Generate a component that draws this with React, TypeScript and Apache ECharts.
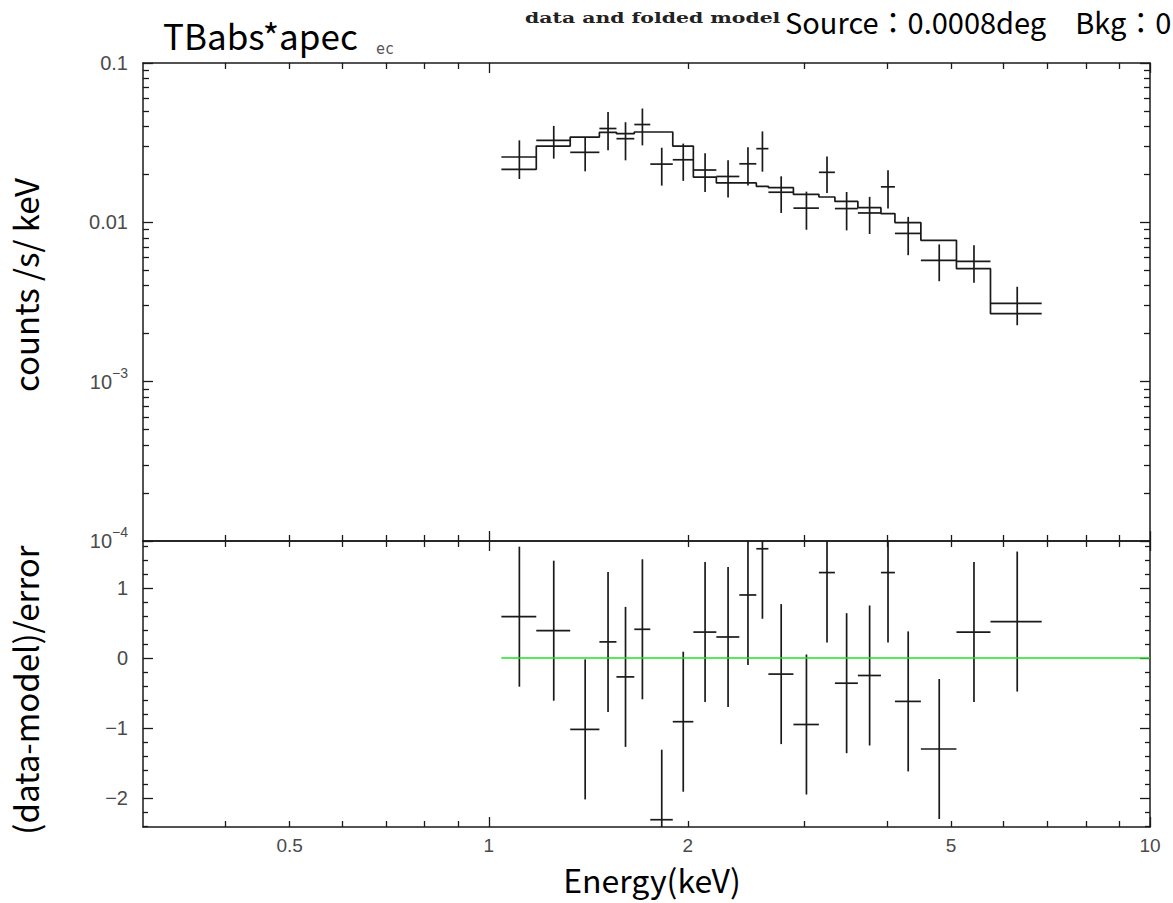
import React, { useEffect, useRef } from 'react';
import * as echarts from 'echarts';

// ---- data ----
const binEdges = [1.045, 1.18, 1.328, 1.47, 1.56, 1.66, 1.755, 1.898, 2.039, 2.209, 2.393, 2.539, 2.648, 2.889, 3.157, 3.338, 3.616, 3.918, 4.114, 4.503, 5.097, 5.738, 6.858];
const dataRate = [0.0257, 0.0327, 0.0275, 0.0388, 0.0335, 0.0411, 0.0232, 0.0247, 0.0213, 0.0194, 0.0233, 0.029, 0.01545, 0.01228, 0.0206, 0.0122, 0.01145, 0.0167, 0.00852, 0.00577, 0.00568, 0.0031];
const dataErr = [0.007, 0.0076, 0.0066, 0.0105, 0.009, 0.0107, 0.0062, 0.0065, 0.0058, 0.0051, 0.0063, 0.0082, 0.004, 0.0033, 0.0053, 0.0033, 0.003, 0.0045, 0.0023, 0.0015, 0.0015, 0.00084];
const modelRate = [0.0215, 0.0301, 0.0343, 0.0367, 0.036, 0.0369, 0.0369, 0.0301, 0.01924, 0.01767, 0.01767, 0.01683, 0.01651, 0.015, 0.01442, 0.01353, 0.01236, 0.01135, 0.00996, 0.00771, 0.00512, 0.00267];
const residual = [0.59, 0.39, -1.02, 0.23, -0.27, 0.41, -2.31, -0.91, 0.37, 0.3, 0.9, 1.56, -0.23, -0.95, 1.22, -0.36, -0.25, 1.22, -0.62, -1.3, 0.37, 0.52];
const residualErr = [1, 1, 1, 1, 1, 1, 1, 1, 1, 1, 1, 1, 1, 1, 1, 1, 1, 1, 1, 1, 1, 1];

const xMin = 0.3;
const xMax = 10;
const xLabelValues = [0.5, 1, 2, 5, 10];
const xMajorTicks = [1, 10];
const xMinorTicks = [0.4, 0.5, 0.6, 0.7, 0.8, 0.9, 2, 3, 4, 5, 6, 7, 8, 9];
const yTopMin = 0.0001;
const yTopMax = 0.1;
const yTopMajor = [0.0001, 0.001, 0.01, 0.1];
const yTopMinor = [0.0002, 0.0003, 0.0004, 0.0005, 0.0006, 0.0007, 0.0008, 0.0009, 0.002, 0.003, 0.004, 0.005, 0.006, 0.007, 0.008, 0.009, 0.02, 0.03, 0.04, 0.05, 0.06, 0.07, 0.08, 0.09];
const yBotMin = -2.414;
const yBotMax = 1.671;
const yBotMajor = [-2, -1, 0, 1];
const yBotMinor = [-2.4, -2.2, -1.8, -1.6, -1.4, -1.2, -0.8, -0.6, -0.4, -0.2, 0.2, 0.4, 0.6, 0.8, 1.2, 1.4, 1.6];

const titleText = 'TBabs*apec';
const subTitle = 'ec';
const plotTypeText = 'data and folded model';
const infoText = 'Source：0.0008deg　Bkg：0';
const yTopTitle = 'counts /s/ keV';
const yBotTitle = '(data-model)/error';
const xTitle = 'Energy(keV)';

const INK = '#1a1a1a';
const LABEL = '#4a4a4a';
const BIG_FONT = '"Noto Sans CJK JP", "Noto Sans", sans-serif';
const TICK_FONT = '"Liberation Sans", Arial, sans-serif';
const TICK_SIZE = 20;

const GRID_LEFT = 143;
const GRID_W = 1007;
const TOP_Y = 63;
const MID_Y = 541;
const BOT_Y = 827;

function xAxisDef(gridIndex: number, position: string, ticks: number[], len: number, showLine: boolean, labels: boolean) {
  return {
    type: 'log',
    logBase: 10,
    gridIndex,
    position,
    min: xMin,
    max: xMax,
    axisLine: { show: showLine, onZero: false, lineStyle: { color: INK, width: 1.5 } },
    axisTick: { show: true, inside: true, length: len, customValues: ticks, lineStyle: { color: INK, width: 1.3 } },
    axisLabel: labels
      ? {
          show: true,
          customValues: xLabelValues,
          margin: 9,
          color: LABEL,
          fontFamily: TICK_FONT,
          fontSize: 19,
          formatter: (v: number) => String(v),
        }
      : { show: false },
    splitLine: { show: false },
    minorTick: { show: false },
  };
}

function yTopDef(position: string, ticks: number[], len: number, showLine: boolean, labels: boolean) {
  return {
    type: 'log',
    logBase: 10,
    gridIndex: 0,
    position,
    min: yTopMin,
    max: yTopMax,
    axisLine: { show: showLine, lineStyle: { color: INK, width: 1.5 } },
    axisTick: { show: true, inside: true, length: len, customValues: ticks, lineStyle: { color: INK, width: 1.3 } },
    axisLabel: labels
      ? {
          show: true,
          customValues: yTopMajor,
          margin: 15,
          color: LABEL,
          fontFamily: TICK_FONT,
          fontSize: TICK_SIZE,
          formatter: (v: number) => {
            if (v >= 0.01) return String(v);
            const e = Math.round(Math.log10(v));
            return '{base|10}{sup|−' + String(-e) + '}';
          },
          rich: {
            base: { fontSize: TICK_SIZE, lineHeight: 32, color: LABEL, fontFamily: TICK_FONT },
            sup: { fontSize: 14, lineHeight: 14, verticalAlign: 'top', color: LABEL, fontFamily: TICK_FONT },
          },
        }
      : { show: false },
    splitLine: { show: false },
    minorTick: { show: false },
  };
}

function yBotDef(position: string, ticks: number[], len: number, showLine: boolean, labels: boolean) {
  return {
    type: 'value',
    gridIndex: 1,
    position,
    min: yBotMin,
    max: yBotMax,
    axisLine: { show: showLine, onZero: false, lineStyle: { color: INK, width: 1.5 } },
    axisTick: { show: true, inside: true, length: len, customValues: ticks, lineStyle: { color: INK, width: 1.3 } },
    axisLabel: labels
      ? {
          show: true,
          customValues: yBotMajor,
          margin: 15,
          color: LABEL,
          fontFamily: TICK_FONT,
          fontSize: TICK_SIZE,
          formatter: (v: number) => (v < 0 ? '−' + String(Math.abs(v)) : String(v)),
        }
      : { show: false },
    splitLine: { show: false },
    minorTick: { show: false },
  };
}

function errorBarRenderer(params: any, api: any) {
  const lo = api.value(0);
  const hi = api.value(1);
  const v = api.value(2);
  const e = api.value(3);
  const mid = (lo + hi) / 2;
  const cs = params.coordSys;
  const clampY = (y: number) => Math.max(cs.y, Math.min(cs.y + cs.height, y));
  const pL = api.coord([lo, v]);
  const pR = api.coord([hi, v]);
  const pT = api.coord([mid, v + e]);
  const pB = api.coord([mid, v - e]);
  const style = { stroke: INK, lineWidth: 1.7 };
  const children: any[] = [];
  if (pL[1] >= cs.y && pL[1] <= cs.y + cs.height) {
    children.push({ type: 'line', shape: { x1: pL[0], y1: pL[1], x2: pR[0], y2: pR[1] }, style });
  }
  children.push({ type: 'line', shape: { x1: pT[0], y1: clampY(pT[1]), x2: pB[0], y2: clampY(pB[1]) }, style });
  return { type: 'group', children };
}

export default function App() {
  const ref = useRef<HTMLDivElement>(null);

  useEffect(() => {
    if (!ref.current) return;
    const chart = echarts.init(ref.current, null, { renderer: 'svg' });

    const spectrumData = dataRate.map((v, i) => [binEdges[i], binEdges[i + 1], v, dataErr[i]]);
    const residualData = residual.map((r, i) => [binEdges[i], binEdges[i + 1], r, residualErr[i]]);
    const modelSteps = modelRate.map((m, i) => [binEdges[i], m]);
    modelSteps.push([binEdges[binEdges.length - 1], modelRate[modelRate.length - 1]]);

    const option: any = {
      animation: false,
      backgroundColor: '#ffffff',
      grid: [
        { left: GRID_LEFT, top: TOP_Y, width: GRID_W, height: MID_Y - TOP_Y, containLabel: false },
        { left: GRID_LEFT, top: MID_Y, width: GRID_W, height: BOT_Y - MID_Y, containLabel: false },
      ],
      xAxis: [
        xAxisDef(0, 'bottom', xMajorTicks, 10, true, false),
        xAxisDef(0, 'bottom', xMinorTicks, 6, false, false),
        xAxisDef(0, 'top', xMajorTicks, 10, true, false),
        xAxisDef(0, 'top', xMinorTicks, 6, false, false),
        xAxisDef(1, 'bottom', xMajorTicks, 10, true, true),
        xAxisDef(1, 'bottom', xMinorTicks, 6, false, false),
        xAxisDef(1, 'top', xMajorTicks, 10, true, false),
        xAxisDef(1, 'top', xMinorTicks, 6, false, false),
      ],
      yAxis: [
        yTopDef('left', yTopMajor, 10, true, true),
        yTopDef('left', yTopMinor, 6, false, false),
        yTopDef('right', yTopMajor, 10, true, false),
        yTopDef('right', yTopMinor, 6, false, false),
        yBotDef('left', yBotMajor, 10, true, true),
        yBotDef('left', yBotMinor, 5, false, false),
        yBotDef('right', yBotMajor, 10, true, false),
        yBotDef('right', yBotMinor, 5, false, false),
      ],
      series: [
        {
          type: 'line',
          name: 'model',
          xAxisIndex: 0,
          yAxisIndex: 0,
          data: modelSteps,
          step: 'end',
          showSymbol: false,
          symbol: 'none',
          lineStyle: { color: INK, width: 1.7 },
          z: 3,
        },
        {
          type: 'custom',
          name: 'data',
          xAxisIndex: 0,
          yAxisIndex: 0,
          data: spectrumData,
          encode: { x: [0, 1], y: [2] },
          renderItem: errorBarRenderer,
          z: 4,
        },
        {
          type: 'custom',
          name: 'residual',
          xAxisIndex: 4,
          yAxisIndex: 4,
          data: residualData,
          encode: { x: [0, 1], y: [2] },
          renderItem: errorBarRenderer,
          z: 4,
        },
        {
          type: 'line',
          name: 'zero',
          xAxisIndex: 4,
          yAxisIndex: 4,
          data: [[binEdges[0], 0], [xMax, 0]],
          showSymbol: false,
          symbol: 'none',
          lineStyle: { color: '#22e022', width: 1.6 },
          z: 5,
        },
      ],
      graphic: [
        {
          type: 'text',
          x: 163,
          y: 34,
          style: { text: titleText, font: '35px ' + BIG_FONT, fill: '#000', textAlign: 'left', textVerticalAlign: 'middle', align: 'left', verticalAlign: 'middle' },
        },
        {
          type: 'text',
          x: 376,
          y: 49,
          style: { text: subTitle, font: '15px "DejaVu Sans Mono", monospace', fill: '#555', textAlign: 'left', textVerticalAlign: 'middle', align: 'left', verticalAlign: 'middle' },
        },
        {
          type: 'text',
          x: 525,
          y: 18,
          scaleX: 1.36,
          style: { text: plotTypeText, font: 'bold 15px "DejaVu Serif", serif', fill: '#222', textAlign: 'left', textVerticalAlign: 'middle', align: 'left', verticalAlign: 'middle' },
        },
        {
          type: 'text',
          x: 785,
          y: 21,
          style: { text: infoText, font: '29px ' + BIG_FONT, fill: '#000', textAlign: 'left', textVerticalAlign: 'middle', align: 'left', verticalAlign: 'middle' },
        },
        {
          type: 'text',
          x: 25,
          y: 285,
          rotation: Math.PI / 2,
          style: { text: yTopTitle, font: '33px ' + BIG_FONT, fill: '#000', textAlign: 'center', textVerticalAlign: 'middle', align: 'center', verticalAlign: 'middle' },
        },
        {
          type: 'text',
          x: 25,
          y: 690,
          rotation: Math.PI / 2,
          style: { text: yBotTitle, font: '33px ' + BIG_FONT, fill: '#000', textAlign: 'center', textVerticalAlign: 'middle', align: 'center', verticalAlign: 'middle' },
        },
        {
          type: 'text',
          x: 652,
          y: 879,
          style: { text: xTitle, font: '32px ' + BIG_FONT, fill: '#000', textAlign: 'center', textVerticalAlign: 'middle', align: 'center', verticalAlign: 'middle' },
        },
      ],
    };

    chart.setOption(option);
    return () => {
      chart.dispose();
    };
  }, []);

  return <div ref={ref} style={{ position: 'absolute', left: 0, top: 0, width: 1173, height: 903, background: '#fff' }} />;
}
